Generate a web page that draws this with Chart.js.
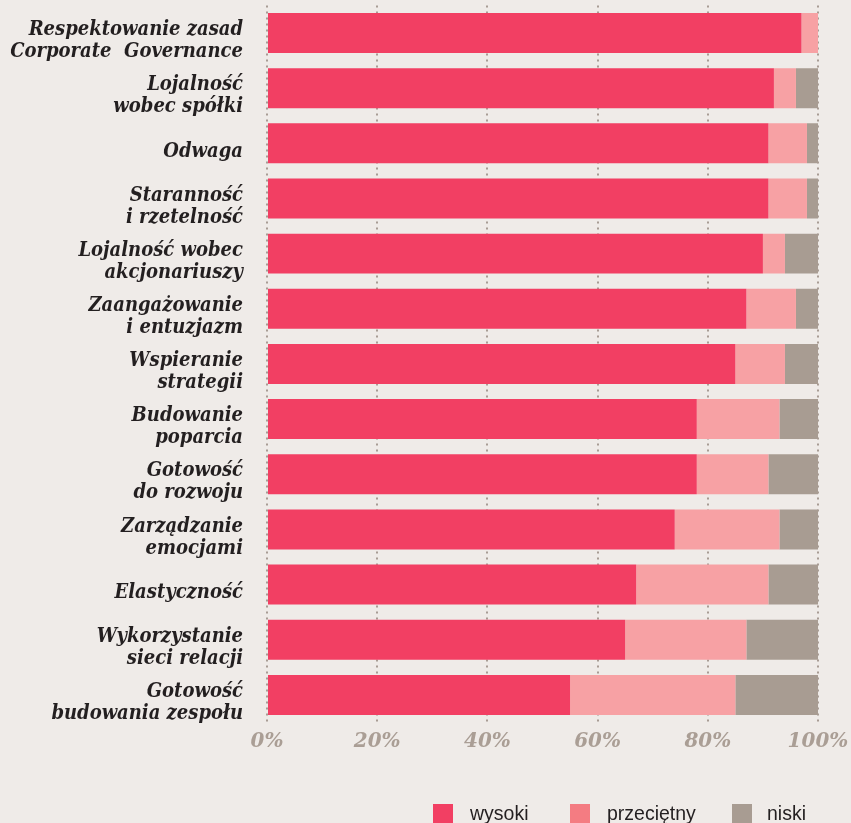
<!DOCTYPE html>
<html>
<head>
<meta charset="utf-8">
<script src="https://cdn.jsdelivr.net/npm/chart.js@4"></script>
<style>
  html, body { margin: 0; padding: 0; background: #efebe8; overflow: hidden; }
  #wrap { position: relative; width: 851px; height: 823px; overflow: hidden; }
  #legend { position: absolute; left: 0; top: 804px; width: 851px; height: 30px; font-family: "Liberation Sans", Arial, sans-serif; font-size: 19.5px; color: #231f20; }
  .item { position: absolute; top: 0; height: 20px; line-height: 18px; white-space: nowrap; }
  .box { position: absolute; left: 0; top: 0; width: 20px; height: 20px; }
  .txt { position: absolute; top: 0; }
</style>
</head>
<body>
<div id="wrap">
  <canvas id="c" width="851" height="823"></canvas>
  <div id="legend"></div>
</div>
<script>
const categories = [
  ["Respektowanie zasad", "Corporate  Governance"],
  ["Lojalność", "wobec spółki"],
  "Odwaga",
  ["Staranność", "i rzetelność"],
  ["Lojalność wobec", "akcjonariuszy"],
  ["Zaangażowanie", "i entuzjazm"],
  ["Wspieranie", "strategii"],
  ["Budowanie", "poparcia"],
  ["Gotowość", "do rozwoju"],
  ["Zarządzanie", "emocjami"],
  "Elastyczność",
  ["Wykorzystanie", "sieci relacji"],
  ["Gotowość", "budowania zespołu"]
];
const seriesNames = ["wysoki", "przeciętny", "niski"];
const wysoki     = [97, 92, 91, 91, 90, 87, 85, 78, 78, 74, 67, 65, 55];
const przecietny = [3, 4, 7, 7, 4, 9, 9, 15, 13, 19, 24, 22, 30];
const niski      = [0, 4, 2, 2, 6, 4, 6, 7, 9, 7, 9, 13, 15];
const xTicks = [0, 20, 40, 60, 80, 100];

const barColors = ["#f23f63", "#f7a1a4", "#a89c92"];
const legendColors = ["#f23f63", "#f47c82", "#a89c92"];

const labelFont = '"DejaVu Serif Condensed", "DejaVu Serif", serif';
const tickFont = '"DejaVu Serif", serif';

new Chart(document.getElementById('c'), {
  type: 'bar',
  data: {
    labels: categories,
    datasets: [
      { label: seriesNames[0], data: wysoki, backgroundColor: barColors[0] },
      { label: seriesNames[1], data: przecietny, backgroundColor: barColors[1] },
      { label: seriesNames[2], data: niski, backgroundColor: barColors[2] }
    ]
  },
  options: {
    indexAxis: 'y',
    responsive: false,
    animation: false,
    events: [],
    datasets: { bar: { barPercentage: 0.725, categoryPercentage: 1, borderWidth: 0 } },
    layout: { padding: { left: 0, right: 33, top: 5.4, bottom: 60.5 } },
    plugins: { legend: { display: false }, tooltip: { enabled: false } },
    scales: {
      x: {
        stacked: true,
        min: 0, max: 100,
        afterBuildTicks: (s) => { s.ticks = xTicks.map(v => ({ value: v })); },
        afterFit: (s) => { s.height = 40; s.paddingRight = 0; s.paddingLeft = 0; },
        border: { display: false, dash: [2, 4] },
        grid: { color: '#a89c94', lineWidth: 2, drawTicks: false },
        ticks: {
          padding: 7,
          color: '#aa9e95',
          font: { family: tickFont, style: 'italic', weight: 'bold', size: 20 },
          callback: (v) => v + '%'
        }
      },
      y: {
        stacked: true,
        afterFit: (s) => { s.width = 267; s.paddingTop = 0; s.paddingBottom = 0; },
        border: { display: false },
        grid: { display: false, drawTicks: false },
        ticks: {
          padding: 24,
          labelOffset: 8,
          color: '#231f20',
          font: { family: labelFont, style: 'italic', weight: 'bold', size: 20, lineHeight: 1.1 }
        }
      }
    }
  }
});

// HTML legend
const legendX = [433, 570, 732];
const leg = document.getElementById('legend');
seriesNames.forEach((name, i) => {
  const it = document.createElement('div');
  it.className = 'item';
  it.style.left = legendX[i] + 'px';
  const b = document.createElement('div');
  b.className = 'box';
  b.style.background = legendColors[i];
  const t = document.createElement('div');
  t.className = 'txt';
  t.style.left = (i === 2 ? 35 : 37) + 'px';
  t.textContent = name;
  it.appendChild(b); it.appendChild(t);
  leg.appendChild(it);
});
</script>
</body>
</html>
